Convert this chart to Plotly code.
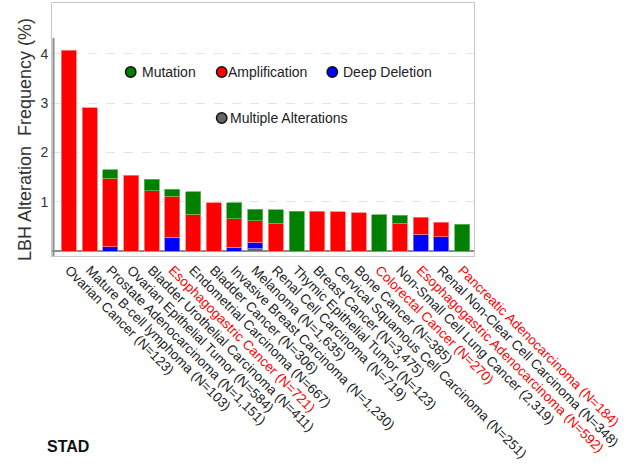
import plotly.graph_objects as go

# Cancer types (study sample counts in labels) and LBH alteration frequencies (%)
categories = [
    "Ovarian Cancer (N=123)",
    "Mature B-cell lymphoma (N=103)",
    "Prostate Adenocarcinoma (N=1,151)",
    "Ovarian Epithelial Tumor (N=584)",
    "Bladder Urothelial Carcinoma (N=411)",
    "Esophagogastric Cancer (N=721)",
    "Endometrial Carcinoma (N=667)",
    "Bladder Cancer (N=306)",
    "Invasive Breast Carcinoma (N=1,230)",
    "Melanoma (N=1,635)",
    "Renal Cell Carcinoma (N=719)",
    "Thymic Epithelial Tumor (N=123)",
    "Breast Cancer (N=3,475)",
    "Cervical Squamous Cell Carcinoma (N=251)",
    "Bone Cancer (N=385)",
    "Colorectal Cancer (N=270)",
    "Non-Small Cell Lung Cancer (2,319)",
    "Esophagogastric Adenocarcinoma (N=592)",
    "Renal Non-Clear Cell Carcinoma (N=348)",
    "Pancreatic Adenocarcinoma (N=184)",
]
highlighted = [
    "Esophagogastric Cancer (N=721)",
    "Colorectal Cancer (N=270)",
    "Esophagogastric Adenocarcinoma (N=592)",
    "Pancreatic Adenocarcinoma (N=184)",
]

multiple = [0, 0, 0, 0, 0, 0, 0, 0, 0, 0.06, 0, 0, 0, 0, 0, 0, 0, 0, 0, 0]
deep_deletion = [0, 0, 0.09, 0, 0, 0.28, 0, 0, 0.08, 0.12, 0, 0, 0, 0, 0, 0, 0, 0.34, 0.29, 0]
amplification = [4.07, 2.91, 1.39, 1.54, 1.22, 0.83, 0.75, 0.98, 0.57, 0.43,
                 0.56, 0, 0.81, 0.80, 0.78, 0, 0.56, 0.34, 0.29, 0]
mutation = [0, 0, 0.17, 0, 0.24, 0.14, 0.45, 0, 0.33, 0.24,
            0.28, 0.81, 0, 0, 0, 0.74, 0.17, 0, 0, 0.54]

y_ticks = [1, 2, 3, 4]

W, H = 632, 464
L, R, T, B = 52, 158, 3, 208
PW, PH = W - L - R, H - T - B


def px(x):
    return (x - L) / PW


def py(y):
    return (H - B - y) / PH


FONT = "Liberation Sans, Arial, sans-serif"
GREEN, RED, BLUE, GREY = "#008000", "#ff0000", "#0000ff", "#666666"

idx = list(range(len(categories)))
fig = go.Figure()
for name, vals, col, edge in [
    ("Multiple Alterations", multiple, GREY, "#999999"),
    ("Deep Deletion", deep_deletion, BLUE, "#7f7fff"),
    ("Amplification", amplification, RED, "#ff8080"),
    ("Mutation", mutation, GREEN, "#66b366"),
]:
    # empty segments are skipped so they leave no outline on the stack
    fig.add_trace(go.Bar(
        x=idx, y=[v if v else None for v in vals], name=name, showlegend=False,
        marker=dict(color=col, line=dict(color=edge, width=0.8)),
    ))

ticktext = [
    f'<span style="color:#ff0000">{c}</span>' if c in highlighted else c
    for c in categories
]

fig.update_layout(
    width=W, height=H,
    margin=dict(l=L, r=R, t=T, b=B, pad=0, autoexpand=False),
    paper_bgcolor="white", plot_bgcolor="white",
    barmode="stack", bargap=0.275,
    font=dict(family=FONT, color="#333333"),
    xaxis=dict(
        range=[-0.82, 19.58], tickmode="array", tickvals=idx, ticktext=ticktext,
        tickangle=45, tickfont=dict(size=13.5, color="#222222"), automargin=False,
        showgrid=False, showline=True, mirror=True,
        linecolor="#c8c8c8", linewidth=1, ticks="", zeroline=False,
    ),
    yaxis=dict(
        range=[-0.101, 5.03], tickmode="array", tickvals=y_ticks, automargin=False,
        ticktext=[str(v) for v in y_ticks], tickfont=dict(size=14, color="#333333"),
        showgrid=True, gridcolor="#e4e4e4", griddash="dash", gridwidth=1,
        zeroline=True, zerolinecolor="#8c8c8c", zerolinewidth=2,
        showline=True, mirror=True, linecolor="#c8c8c8", linewidth=1, ticks="",
    ),
)

# left axis line (darker, stops below the frame top)
fig.add_shape(type="line", xref="paper", yref="paper",
              x0=px(53.5), x1=px(53.5), y0=0, y1=py(38),
              line=dict(color="#8c8c8c", width=2))

# legend
legend_items = [
    ("Mutation", GREEN, 130.7, 72, 140),
    ("Amplification", RED, 221.7, 72, 226),
    ("Deep Deletion", BLUE, 332.3, 72, 341),
    ("Multiple Alterations", GREY, 221.7, 118, 228),
]
r = 5.2
for label, col, cx, cy, tx in legend_items:
    fig.add_shape(type="circle", xref="paper", yref="paper",
                  x0=px(cx - r), x1=px(cx + r), y0=py(cy + r), y1=py(cy - r),
                  fillcolor=col, line=dict(color="#111111", width=1.5))
    fig.add_annotation(xref="paper", yref="paper", x=px(tx), y=py(cy),
                       xanchor="left", yanchor="middle", showarrow=False,
                       text=label, font=dict(size=14, color="#222222", family=FONT))

# y-axis title
fig.add_annotation(xref="paper", yref="paper", x=px(25), y=py(140),
                   xanchor="center", yanchor="middle", showarrow=False,
                   textangle=-90, text="LBH Alteration\u00a0 Frequency (%)",
                   font=dict(size=18, color="#333333", family=FONT))

# study label
fig.add_annotation(xref="paper", yref="paper", x=px(68), y=py(446),
                   xanchor="center", yanchor="middle", showarrow=False,
                   text="<b>STAD</b>", font=dict(size=16, color="#111111", family=FONT))

fig.write_html("out.html")
